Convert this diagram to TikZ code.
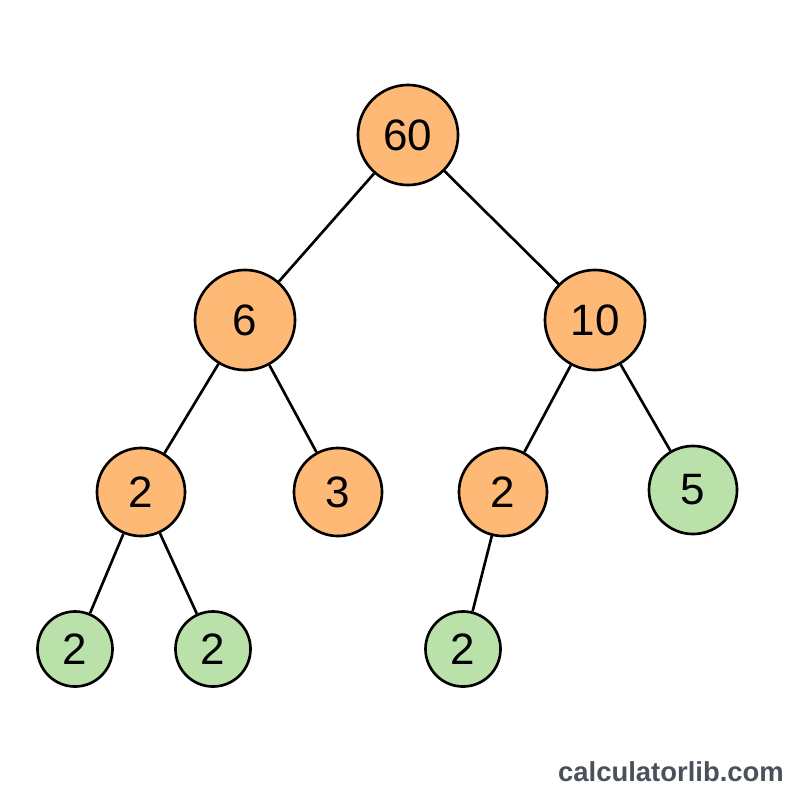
\documentclass[tikz,border=0pt]{standalone}
\usepackage{fontspec}
\setmainfont{Liberation Sans}
\definecolor{orangefill}{HTML}{FDB975}
\definecolor{greenfill}{HTML}{B9E1A9}
\definecolor{wmark}{HTML}{4A505C}
\begin{document}
\begin{tikzpicture}[x=0.01cm,y=-0.01cm,
  nd/.style={circle,draw=black,line width=0.75pt,inner sep=0pt,font=\fontsize{12.5}{14}\selectfont},
  big/.style={nd,minimum size=1.0cm},
  mid/.style={nd,minimum size=0.88cm},
  small/.style={nd,minimum size=0.75cm},
  org/.style={fill=orangefill},
  grn/.style={fill=greenfill},
  edge/.style={draw=black,line width=0.75pt}]
\useasboundingbox (0,0) rectangle (800,800);
\node[big,org] (n60) at (408,135) {60};
\node[big,org] (n6) at (245,320) {6};
\node[big,org] (n10) at (595,320) {10};
\node[mid,org] (a2) at (141,492) {2};
\node[mid,org] (n3) at (338,492) {3};
\node[mid,org] (b2) at (503,492) {2};
\node[mid,grn] (n5) at (693,490) {5};
\node[small,grn] (l1) at (75,649) {2};
\node[small,grn] (l2) at (213,649) {2};
\node[small,grn] (l3) at (463,649) {2};
\draw[edge] (n60) -- (n6);
\draw[edge] (n60) -- (n10);
\draw[edge] (n6) -- (a2);
\draw[edge] (n6) -- (n3);
\draw[edge] (n10) -- (b2);
\draw[edge] (n10) -- (n5);
\draw[edge] (a2) -- (l1);
\draw[edge] (a2) -- (l2);
\draw[edge] (b2) -- (l3);
\node[font=\bfseries\fontsize{7.8}{9}\selectfont,text=wmark] (wm) at (671,772) {calculatorlib.com};
\end{tikzpicture}
\end{document}
